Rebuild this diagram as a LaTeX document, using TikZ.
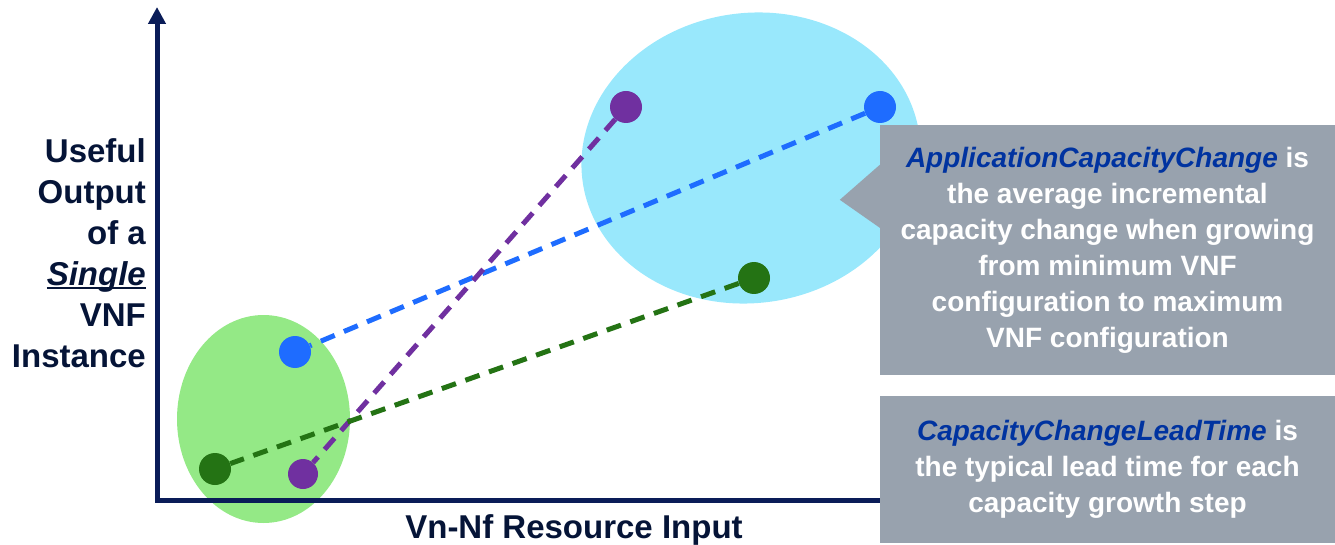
\documentclass[tikz,border=0pt]{standalone}
\usepackage{fontspec}
\setmainfont{Liberation Sans}
\usetikzlibrary{arrows.meta}
\definecolor{axisnavy}{RGB}{10,28,88}
\definecolor{labelnavy}{RGB}{5,20,55}
\definecolor{boxgray}{RGB}{152,162,174}
\definecolor{termblue}{RGB}{0,51,160}
\definecolor{ptblue}{RGB}{30,108,255}
\definecolor{ptpurple}{RGB}{112,48,160}
\definecolor{ptgreen}{RGB}{36,115,20}
\definecolor{blobgreen}{RGB}{148,233,134}
\definecolor{blobcyan}{RGB}{153,232,252}
\newcommand{\baseul}[1]{\setbox0\hbox{#1}\rlap{\rule[-4pt]{\wd0}{2pt}}\box0}
\tikzset{pt/.append style={circle,minimum size=32pt,inner sep=0pt}}
\tikzset{dl/.append style={line width=5pt,dash pattern=on 15pt off 10pt}}
\tikzset{infobox/.append style={fill=boxgray,text=white,font=\bfseries\fontsize{28}{36}\selectfont,align=center,minimum width=455pt,inner sep=0pt}}
\tikzset{axlabel/.append style={text=labelnavy,font=\bfseries\fontsize{33}{41}\selectfont,inner sep=0pt}}

\begin{document}
\begin{tikzpicture}[x=1pt,y=1pt]
                \useasboundingbox (0,0) rectangle (1335,544);
                % blobs
                \fill[blobgreen] (263.5,125) ellipse [x radius=86.5pt, y radius=104pt];
                \fill[blobcyan] (751,386) ellipse [x radius=170pt, y radius=145pt, rotate=8];
                % axes
                \coordinate (orig) at (157,44);
                \coordinate (ytip) at (157,537);
                \coordinate (xend) at (880,44);
                \draw[axisnavy,line width=5pt,{Triangle[width=17pt,length=17pt]}-] (ytip) -- (orig) -- (xend);
                \node[axlabel,align=right,anchor=north east] (ylab) at (146,406) {Useful\\Output\\of a\\\baseul{\itshape Single}\\VNF\\Instance};
                \node[axlabel,anchor=base] (xlab) at (574,6) {Vn-Nf Resource Input};
                % points
                \node[pt,fill=ptblue] (bluelo) at (295,192) {};
                \node[pt,fill=ptgreen] (greenlo) at (215,75) {};
                \node[pt,fill=ptpurple,minimum size=30pt] (purplelo) at (303,70) {};
                \node[pt,fill=ptpurple] (purplehi) at (626,437) {};
                \node[pt,fill=ptblue] (bluehi) at (880,437) {};
                \node[pt,fill=ptgreen] (greenhi) at (754,266) {};
                \path (bluehi) edge[dl,ptblue] (bluelo);
                \path (purplehi) edge[dl,ptpurple] (purplelo);
                \path (greenhi) edge[dl,ptgreen] (greenlo);
                % boxes
                \node[infobox,minimum height=250pt] (capbox) at (1107.5,294) {{\color{termblue}\itshape ApplicationCapacityChange} is\\the average incremental\\capacity change when growing\\from minimum VNF\\configuration to maximum\\VNF configuration};
                \fill[boxgray] ([yshift=-40pt]capbox.north west) -- ([xshift=-40pt,yshift=-75pt]capbox.north west) -- ([yshift=-103pt]capbox.north west) -- cycle;
                \node[infobox,minimum height=147pt] (leadbox) at (1107.5,74.5) {{\color{termblue}\itshape CapacityChangeLeadTime} is\\the typical lead time for each\\capacity growth step};
            \end{tikzpicture}
\end{document}
